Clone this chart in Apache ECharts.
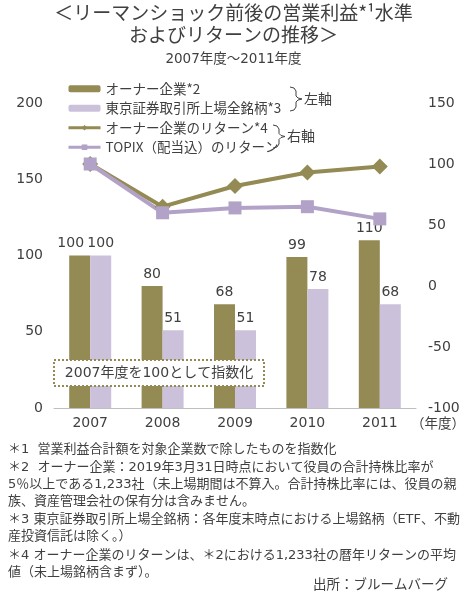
<!DOCTYPE html>
<html lang="ja">
<head>
    <meta charset="UTF-8">
    <title>リーマンショック前後の営業利益水準</title>
    <script src="https://cdn.jsdelivr.net/npm/echarts@6/dist/echarts.min.js"></script>
    <style>
        * { margin: 0; padding: 0; }
        html, body { width: 100%; height: 100%; background: #fff; }
    </style>
</head>
<body>
    <div id="main" style="width: 467px;height:598px;"></div>
</body>
<script>
    var years = ['2007', '2008', '2009', '2010', '2011'];
    var ownerProfit = [100, 80, 68, 99, 110];       // オーナー企業*2 (左軸)
    var tseProfit = [100, 51, 51, 78, 68];          // 東京証券取引所上場全銘柄*3 (左軸)
    var ownerReturn = [100, 65, 82, 93, 98];        // オーナー企業のリターン*4 (右軸)
    var topixReturn = [100, 60, 64, 65, 55];        // TOPIX(配当込)のリターン (右軸)
    var notes = [
        '＊1  営業利益合計額を対象企業数で除したものを指数化',
        '＊2  オーナー企業：2019年3月31日時点において役員の合計持株比率が',
        '5％以上である1,233社（未上場期間は不算入。合計持株比率には、役員の親',
        '族、資産管理会社の保有分は含みません。',
        '＊3 東京証券取引所上場全銘柄：各年度末時点における上場銘柄（ETF、不動',
        '産投資信託は除く。）',
        '＊4 オーナー企業のリターンは、＊2における1,233社の暦年リターンの平均',
        '値（未上場銘柄含まず）。'
    ];

    // 数字は幅の広い DejaVu、和文は Noto Sans CJK
    var FONT = '"DejaVu Sans", "Noto Sans CJK JP", sans-serif';
    var JFONT = '"Noto Sans CJK JP", sans-serif';
    var OLIVE = '#948A54';
    var LAV_BAR = '#CCC1DA';
    var LAV_LINE = '#B3A2C7';
    var TXT = '#404040';

    var myChart = echarts.init(document.getElementById('main'));

    // かっこ "}" の形
    function brace(x, y0, y1) {
        var m = (y0 + y1) / 2;
        return [[x, y0], [x + 4, y0 + 1], [x + 6, y0 + 4], [x + 6, m - 3], [x + 8, m - 1], [x + 12, m],
            [x + 8, m + 1], [x + 6, m + 3], [x + 6, y1 - 4], [x + 4, y1 - 1], [x, y1]];
    }

    var noteY = [450, 468, 485, 502, 520, 537, 556, 573];
    var graphics = [
        { type: 'text', left: 'center', top: 3, style: { text: '＜リーマンショック前後の営業利益*¹水準', font: '19px ' + JFONT, fill: TXT } },
        { type: 'text', left: 'center', top: 25, style: { text: 'およびリターンの推移＞', font: '19px ' + JFONT, fill: TXT } },
        { type: 'text', left: 'center', top: 53, style: { text: '2007年度～2011年度', font: '13.5px ' + FONT, fill: TXT } },
        { type: 'polyline', shape: { points: brace(290, 87, 111) }, style: { stroke: TXT, fill: null, lineWidth: 1 } },
        { type: 'text', x: 304, y: 99, style: { text: '左軸', font: '14px ' + JFONT, fill: TXT, textVerticalAlign: 'middle' } },
        { type: 'polyline', shape: { points: brace(273, 125, 148) }, style: { stroke: TXT, fill: null, lineWidth: 1 } },
        { type: 'text', x: 287, y: 136, style: { text: '右軸', font: '14px ' + JFONT, fill: TXT, textVerticalAlign: 'middle' } },
        // 指数化の注記
        { type: 'rect', shape: { x: 54, y: 360, width: 210, height: 26 }, z: 100,
          style: { fill: '#fff', stroke: OLIVE, lineWidth: 2, lineDash: [2, 2] } },
        { type: 'text', x: 159, y: 373, z: 101, style: { text: '2007年度を100として指数化', font: '14px ' + FONT, fill: TXT, textAlign: 'center', textVerticalAlign: 'middle' } },
        { type: 'text', x: 411, y: 423, style: { text: '（年度）', font: '13.5px ' + JFONT, fill: TXT, textVerticalAlign: 'middle' } },
        { type: 'text', x: 448, y: 584, style: { text: '出所：ブルームバーグ', font: '13.5px ' + JFONT, fill: TXT, textAlign: 'right', textVerticalAlign: 'middle' } }
    ];
    for (var i = 0; i < notes.length; i++) {
        graphics.push({ type: 'text', x: 8, y: noteY[i], style: { text: notes[i], font: '13px ' + FONT, fill: TXT, textVerticalAlign: 'middle' } });
    }

    // 2007年度の2つの「100」が重ならないよう、左の棒のラベルを少し左へ
    var ownerData = ownerProfit.map(function (v, i) {
        return i === 0 ? { value: v, label: { offset: [-9, 0] } } : v;
    });

    myChart.setOption({
        animation: false,
        textStyle: { fontFamily: FONT },
        legend: {
            orient: 'vertical',
            left: 62,
            top: 77,
            itemWidth: 32,
            itemHeight: 7,
            itemGap: 6,
            textStyle: { fontSize: 13.5, color: TXT, fontFamily: JFONT },
            data: [
                'オーナー企業*2',
                '東京証券取引所上場全銘柄*3',
                { name: 'オーナー企業のリターン*4', lineStyle: { width: 3 } },
                { name: 'TOPIX（配当込）のリターン', lineStyle: { width: 3 } }
            ]
        },
        grid: { left: 54, right: 51, top: 103, bottom: 190 },
        xAxis: {
            type: 'category',
            data: years,
            axisTick: { show: false },
            axisLine: { lineStyle: { color: '#BFBFBF' } },
            axisLabel: { fontSize: 14, color: TXT, margin: 8 }
        },
        yAxis: [
            {
                type: 'value', min: 0, max: 200, interval: 50,
                splitLine: { show: false },
                axisLabel: { fontSize: 14, color: TXT, margin: 11 }
            },
            {
                type: 'value', min: -100, max: 150, interval: 50,
                splitLine: { show: false },
                axisLabel: { fontSize: 14, color: TXT, margin: 12 }
            }
        ],
        series: [
            {
                name: 'オーナー企業*2', type: 'bar', yAxisIndex: 0,
                data: ownerData, barGap: '0%', barCategoryGap: '42%',
                itemStyle: { color: OLIVE },
                label: { show: true, position: 'top', distance: 5, fontSize: 14, color: TXT }
            },
            {
                name: '東京証券取引所上場全銘柄*3', type: 'bar', yAxisIndex: 0,
                data: tseProfit,
                itemStyle: { color: LAV_BAR },
                label: { show: true, position: 'top', distance: 5, fontSize: 14, color: TXT }
            },
            {
                name: 'オーナー企業のリターン*4', type: 'line', yAxisIndex: 1,
                data: ownerReturn,
                symbol: 'diamond', symbolSize: 16,
                lineStyle: { color: OLIVE, width: 4 },
                itemStyle: { color: OLIVE }
            },
            {
                name: 'TOPIX（配当込）のリターン', type: 'line', yAxisIndex: 1,
                data: topixReturn,
                symbol: 'rect', symbolSize: 13,
                lineStyle: { color: LAV_LINE, width: 4 },
                itemStyle: { color: LAV_LINE }
            }
        ],
        graphic: graphics
    });
</script>
</html>
